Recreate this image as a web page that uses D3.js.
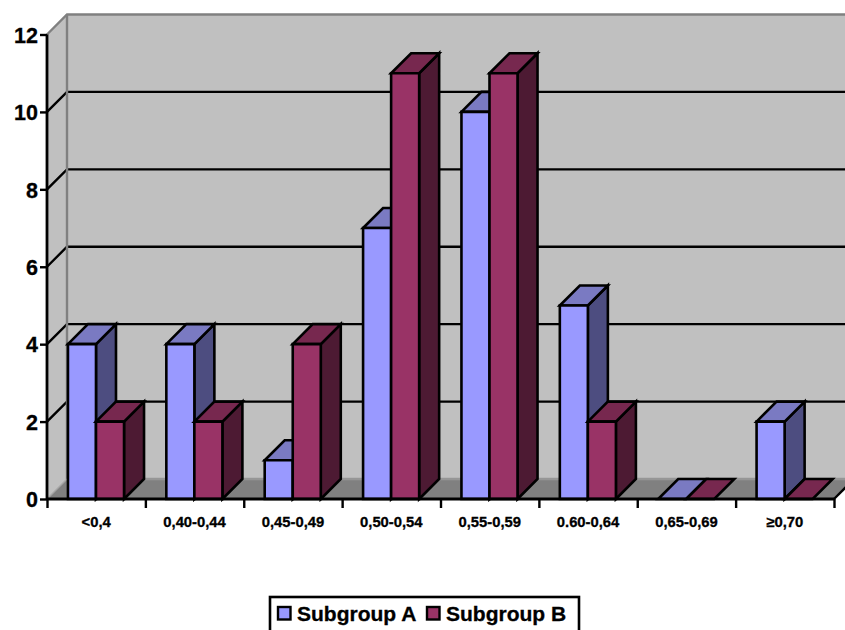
<!DOCTYPE html>
<html>
<head>
<meta charset="utf-8">
<script src="https://cdn.jsdelivr.net/npm/d3@7/dist/d3.min.js"></script>
<style>
html,body{margin:0;padding:0;background:#fff;overflow:hidden}
svg{display:block}
text{font-family:"Liberation Sans",Arial,sans-serif;font-weight:bold;fill:#000;stroke:#000;stroke-width:0.3px}
</style>
</head>
<body>
<svg id="chart" width="845" height="630"></svg>
<script>
const categories = ["<0,4","0,40-0,44","0,45-0,49","0,50-0,54","0,55-0,59","0.60-0,64","0,65-0,69","≥0,70"];
const subgroupA = [4,4,1,7,10,5,0,2];
const subgroupB = [2,2,4,11,11,2,0,0];
const seriesNames = ["Subgroup A","Subgroup B"];
const yTicks = [0,2,4,6,8,10,12];

const palette = [
  {front:"#9999ff", top:"#7a7ac2", side:"#4d4d80"},
  {front:"#993366", top:"#77284f", side:"#4d1a33"}
];

const svg = d3.select("#chart");
const left = 47, right = 834, base = 499, ceil = 34.5, depth = 20;

const y = d3.scaleLinear().domain([0,12]).range([base,ceil]);
const x = d3.scaleBand().domain(categories).range([left,right]);
const inner = d3.scaleBand().domain([0,1]).range([x.bandwidth()*0.213,x.bandwidth()*0.783]);

const poly = (g,pts,fill,stroke,w) => g.append("polygon")
  .attr("points",pts.map(p=>p.join(",")).join(" "))
  .attr("fill",fill).attr("stroke",stroke||"none").attr("stroke-width",w||0)
  .attr("stroke-linejoin","miter");

// Back wall and side wall
const walls = svg.append("g");
poly(walls,[[left+depth,ceil-depth],[right+depth,ceil-depth],[right+depth,base-depth],[left+depth,base-depth]],"#c0c0c0");
poly(walls,[[left,ceil],[left+depth,ceil-depth],[left+depth,base-depth],[left,base]],"#c0c0c0");

// Gridlines run across the back wall and fold down the side wall
const grid = svg.append("g").attr("fill","none").attr("stroke","#000").attr("stroke-width",2.4);
yTicks.filter(t=>t>0&&t<12).forEach(t=>{
  grid.append("path").attr("d",`M${left},${y(t)}L${left+depth},${y(t)-depth}H${right+depth}`);
});

// Wall outlines in mid grey
const edge = svg.append("g").attr("fill","none").attr("stroke","#808080").attr("stroke-width",2.4);
edge.append("path").attr("d",`M${left},${ceil}L${left+depth},${ceil-depth}H${right+depth}`);
edge.append("path").attr("d",`M${left+depth},${ceil-depth}V${base-depth}`);

// Floor
const floor = svg.append("g");
poly(floor,[[left,base],[left+depth,base-depth],[right+depth,base-depth],[right,base]],"#808080");
svg.append("path").attr("d",`M${left+depth},${base-depth}H${right+depth}`)
  .attr("stroke","#969696").attr("stroke-width",2.4).attr("fill","none");
svg.append("path").attr("d",`M${left},${base}L${left+depth},${base-depth}`)
  .attr("stroke","#a6a6a6").attr("stroke-width",1.5).attr("fill","none");
svg.append("path").attr("d",`M${right},${base}L${right+depth},${base-depth}`)
  .attr("stroke","#000").attr("stroke-width",2.4).attr("fill","none");

// Bars: back to front within each category, series A then series B
const bars = svg.append("g");
categories.forEach((c,i)=>{
  [subgroupA[i],subgroupB[i]].forEach((v,s)=>{
    const x0 = x(c)+inner(s), x1 = x0+inner.bandwidth(), yt = y(v), col = palette[s];
    const g = bars.append("g");
    if(v>0){
      poly(g,[[x1,yt],[x1+depth,yt-depth],[x1+depth,base-depth],[x1,base]],col.side,"#000",2.6);
    }
    poly(g,[[x0,yt],[x0+depth,yt-depth],[x1+depth,yt-depth],[x1,yt]],col.top,"#000",2.6);
    if(v>0){
      poly(g,[[x0,yt],[x1,yt],[x1,base],[x0,base]],col.front,"#000",2.6);
    }
  });
});

// Value axis
const yAxis = d3.axisLeft(y).tickValues(yTicks).tickSize(7).tickPadding(2).tickFormat(d3.format("d"));
const yg = svg.append("g").attr("transform",`translate(${left},0)`).call(yAxis);
yg.select(".domain").attr("stroke","#000").attr("stroke-width",2.8).attr("d",`M0,${ceil}V${base}`);
yg.selectAll(".tick line").attr("stroke","#000").attr("stroke-width",2.4);
yg.selectAll("text").style("font-size","21.5px").attr("dy","0.36em");
yg.attr("font-family",null).attr("font-size",null);

// Category axis: ticks on band boundaries, labels centred in each band
const edges = d3.scaleLinear().domain([0,categories.length]).range([left,right]);
const xTickAxis = d3.axisBottom(edges).tickValues(d3.range(categories.length+1)).tickSize(9).tickFormat("");
const xg = svg.append("g").attr("transform",`translate(0,${base})`).call(xTickAxis);
xg.select(".domain").attr("stroke","#000").attr("stroke-width",2.8).attr("d",`M${left},0H${right}`);
xg.selectAll(".tick line").attr("stroke","#000").attr("stroke-width",2.4);

const xLabelAxis = d3.axisBottom(x).tickSize(0).tickPadding(17);
const xl = svg.append("g").attr("transform",`translate(0,${base})`).call(xLabelAxis);
xl.select(".domain").remove();
xl.attr("font-family",null).attr("font-size",null);
xl.selectAll("text").style("font-size","14.8px");

// Legend
const legend = svg.append("g");
legend.append("rect").attr("x",270).attr("y",597).attr("width",309).attr("height",40)
  .attr("fill","#fff").attr("stroke","#000").attr("stroke-width",2.6);
const legendX = [278,427];
seriesNames.forEach((n,i)=>{
  legend.append("rect").attr("x",legendX[i]).attr("y",607).attr("width",12.5).attr("height",12.5)
    .attr("fill",palette[i].front).attr("stroke","#000").attr("stroke-width",2.4);
  legend.append("text").attr("x",legendX[i]+19).attr("y",621).style("font-size","21px").text(n);
});
</script>
</body>
</html>
